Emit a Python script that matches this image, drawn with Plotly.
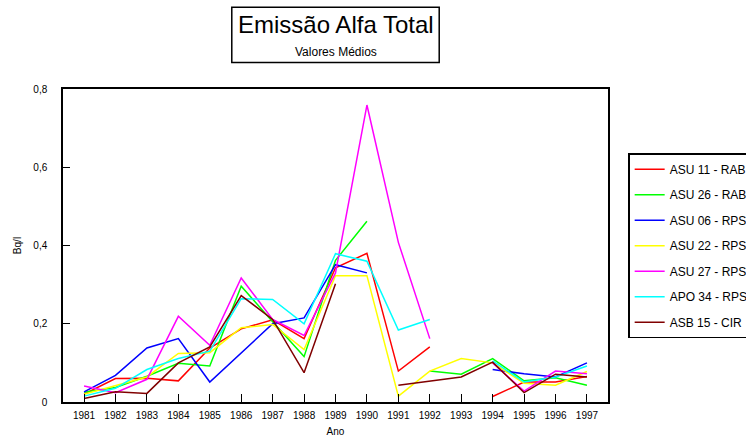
import plotly.graph_objects as go

years = list(range(1981, 1998))
year_labels = [str(y) for y in years]

asu11_rab = [0.020, 0.060, 0.061, 0.054, 0.138, 0.187, 0.210, 0.162, 0.343, 0.380, 0.079, 0.141, None, 0.014, 0.051, 0.051, 0.065]
asu26_rab = [0.025, 0.037, 0.066, 0.099, 0.092, 0.296, 0.205, 0.116, 0.362, 0.462, None, 0.079, 0.071, 0.111, 0.054, 0.062, 0.043]
asu06_rps = [0.026, 0.068, 0.138, 0.162, 0.051, 0.126, 0.200, 0.215, 0.351, 0.330, None, None, None, 0.083, 0.072, 0.064, 0.100]
asu22_rps = [0.020, 0.043, 0.064, 0.124, 0.126, 0.190, 0.198, 0.134, 0.323, 0.323, 0.015, 0.079, 0.111, 0.100, 0.048, 0.043, 0.078]
asu27_rps = [0.041, 0.024, 0.058, 0.219, 0.145, 0.317, 0.211, 0.170, 0.330, 0.759, 0.408, 0.162, None, 0.100, 0.028, 0.079, 0.072]
apo34_rps = [0.015, 0.035, 0.083, 0.111, 0.130, 0.264, 0.262, 0.200, 0.379, 0.360, 0.184, 0.211, None, 0.105, 0.051, 0.064, 0.092]
asb15_cir = [0.009, 0.026, 0.022, 0.100, 0.141, 0.272, 0.211, 0.075, 0.302, None, 0.043, 0.054, 0.064, 0.102, 0.024, 0.071, 0.064]

series_names = ["ASU 11 - RAB", "ASU 26 - RAB", "ASU 06 - RPS", "ASU 22 - RPS",
                "ASU 27 - RPS", "APO 34 - RPS", "ASB 15 - CIR"]
series_values = [asu11_rab, asu26_rab, asu06_rps, asu22_rps, asu27_rps, apo34_rps, asb15_cir]
series_colors = ["#ff0000", "#00ff00", "#0000ff", "#ffff00", "#ff00ff", "#00ffff", "#800000"]

y_ticks = [0, 0.2, 0.4, 0.6, 0.8]
y_labels = ["0", "0,2", "0,4", "0,6", "0,8"]

FONT = "Liberation Sans, Arial, sans-serif"

fig = go.Figure()
for name, vals, col in zip(series_names, series_values, series_colors):
    fig.add_trace(go.Scatter(
        x=years, y=vals, name=name, mode="lines",
        line=dict(color=col, width=1.5),
        connectgaps=False, legendgroup=name,
    ))

fig.update_layout(
    width=746, height=439,
    margin=dict(l=63, r=138, t=89, b=37, autoexpand=False),
    paper_bgcolor="white", plot_bgcolor="white",
    font=dict(family=FONT, size=10, color="black"),
    showlegend=True,
    legend=dict(
        x=1.037, y=0.795, xanchor="left", yanchor="top",
        bordercolor="black", borderwidth=1.5, bgcolor="white",
        font=dict(family=FONT, size=12, color="black"),
        traceorder="grouped", tracegroupgap=6.5, itemwidth=30,
    ),
    xaxis=dict(
        range=[1980.33, 1997.67], tickmode="array", tickvals=years, ticktext=year_labels,
        showline=True, mirror=True, linecolor="black", linewidth=1.5,
        ticks="inside", ticklen=8, tickwidth=1.2, tickcolor="black",
        showgrid=False, zeroline=False, ticklabelstandoff=3,
        tickfont=dict(family=FONT, size=10, color="black"),
        title=dict(text="Ano", font=dict(family=FONT, size=10, color="black"), standoff=8),
    ),
    yaxis=dict(
        range=[0, 0.8], tickmode="array", tickvals=y_ticks, ticktext=y_labels,
        showline=True, mirror=True, linecolor="black", linewidth=1.5,
        ticks="inside", ticklen=7, tickwidth=1.2, tickcolor="black",
        showgrid=False, zeroline=False, ticklabelstandoff=12,
        tickfont=dict(family=FONT, size=10, color="black"),
        title=dict(text="Bq/l", font=dict(family=FONT, size=10, color="black"), standoff=10),
    ),
    shapes=[dict(type="rect", xref="paper", yref="paper",
                 x0=0.3097, x1=0.6903, y0=1.0845, y1=1.2614,
                 line=dict(color="black", width=1.5), fillcolor="white", layer="below")],
    annotations=[
        dict(text="Emissão Alfa Total", xref="paper", yref="paper", x=0.5, y=1.207,
             xanchor="center", yanchor="middle", showarrow=False,
             font=dict(family=FONT, size=24, color="black")),
        dict(text="Valores Médios", xref="paper", yref="paper", x=0.5, y=1.118,
             xanchor="center", yanchor="middle", showarrow=False,
             font=dict(family=FONT, size=12, color="black")),
    ],
)

fig.write_html("out.html", config={"displayModeBar": False},
               post_script="document.body.style.margin='0';")
